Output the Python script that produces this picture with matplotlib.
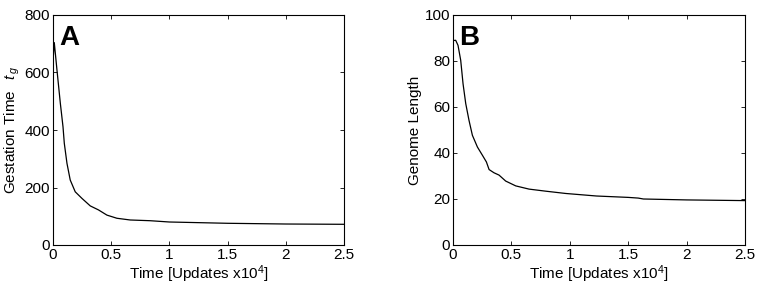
import matplotlib
matplotlib.use("Agg")
import matplotlib.pyplot as plt

plt.rcParams["font.family"] = ["Liberation Sans", "DejaVu Sans"]
plt.rcParams["mathtext.fontset"] = "custom"
plt.rcParams["mathtext.it"] = "Liberation Sans:italic"
plt.rcParams["mathtext.rm"] = "Liberation Sans"

# panel A: gestation time vs time (updates x 1e4)
time_a = [0.0, 0.011, 0.034, 0.063, 0.086, 0.097, 0.12, 0.148, 0.191, 0.249,
          0.32, 0.391, 0.463, 0.549, 0.663, 0.834, 1.0, 1.5, 2.0, 2.5]
gestation = [640, 704, 609, 493, 411, 354, 284, 226, 185, 162,
             136, 122, 104, 93, 87, 84.5, 80, 75.5, 73, 72]

# panel B: genome length vs time
time_b = [0.0, 0.023, 0.043, 0.066, 0.086, 0.109, 0.137, 0.166, 0.209, 0.252,
          0.286, 0.309, 0.351, 0.394, 0.451, 0.537, 0.651, 0.794, 0.966,
          1.229, 1.5, 1.586, 1.63, 2.0, 2.5]
genome = [88.9, 89.0, 86.8, 80.3, 70.1, 61.5, 54.2, 47.7, 42.6, 39.0,
          36.1, 32.8, 31.4, 30.4, 27.8, 25.7, 24.3, 23.4, 22.4,
          21.3, 20.7, 20.4, 20.0, 19.6, 19.3]

xticks = [0, 0.5, 1, 1.5, 2, 2.5]
xtick_labels = ["0", "0.5", "1", "1.5", "2", "2.5"]

fig = plt.figure(figsize=(7.61, 2.92), dpi=100)
ax_a = fig.add_axes([53 / 761, 1 - 245 / 292, 291 / 761, 230 / 292])
ax_b = fig.add_axes([453 / 761, 1 - 245 / 292, 292 / 761, 230 / 292])

panels = [
    (ax_a, time_a, gestation, (0, 800), [0, 200, 400, 600, 800],
     r"Gestation Time $\;\;\mathit{t}_{\,g}$", "A"),
    (ax_b, time_b, genome, (0, 100), [0, 20, 40, 60, 80, 100], "Genome Length", "B"),
]

for ax, x, y, ylim, yticks, ylabel, letter in panels:
    ax.plot(x, y, color="black", lw=0.9)
    ax.set_xlim(0, 2.5)
    ax.set_ylim(*ylim)
    ax.set_xticks(xticks)
    ax.set_xticklabels(xtick_labels)
    ax.set_yticks(yticks)
    ax.tick_params(direction="in", top=True, right=True, length=3, width=0.6,
                   labelsize=11, pad=2)
    for s in ax.spines.values():
        s.set_linewidth(0.8)
    ax.set_xlabel(r"Time [Updates x10$^4$]", fontsize=11, labelpad=1)
    ax.set_ylabel(ylabel, fontsize=11, labelpad=2)
    ax.text(0.022, 0.955, letter, transform=ax.transAxes, fontsize=20,
            fontweight="bold", va="top", ha="left")

fig.savefig("out.png", dpi=100)
